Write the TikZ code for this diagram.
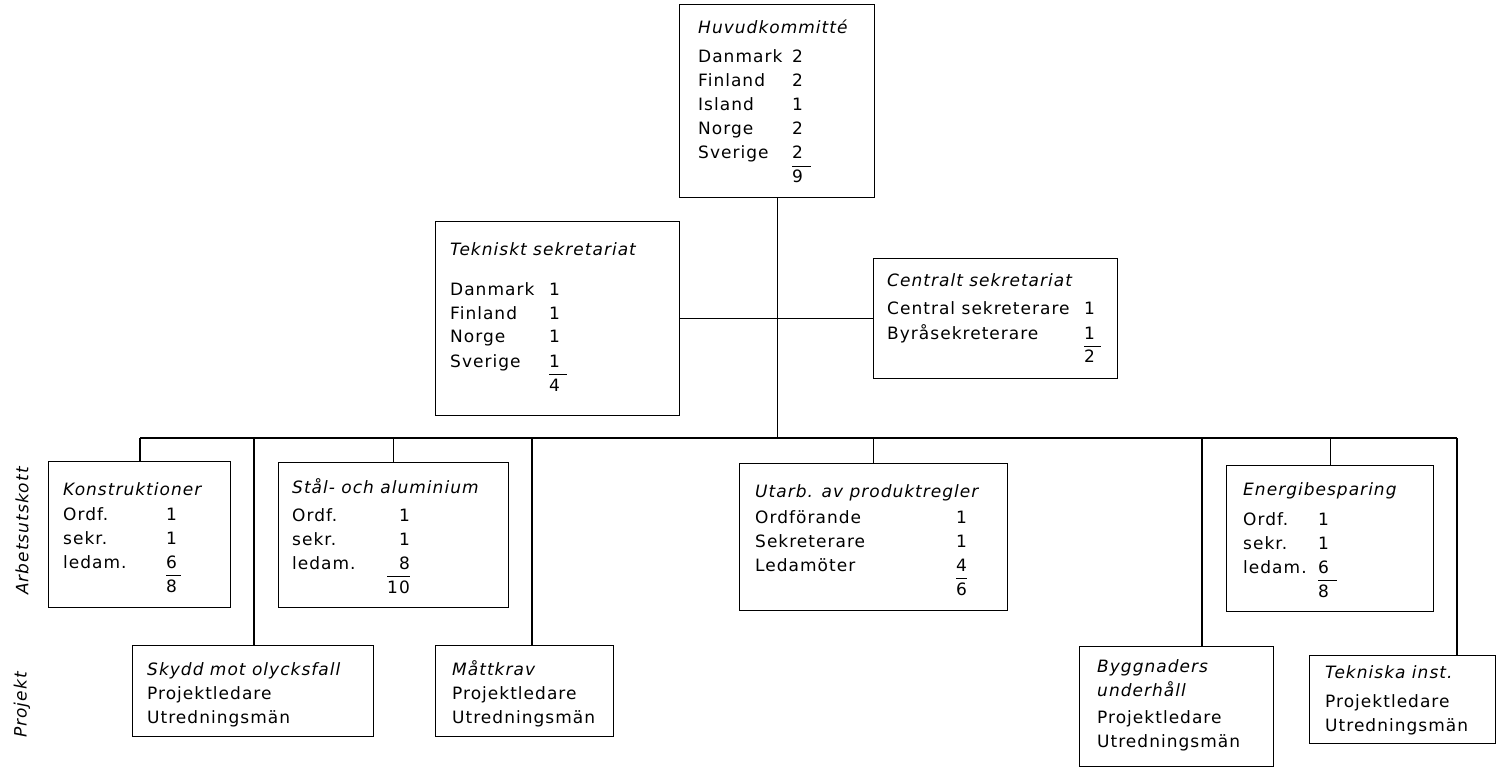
\documentclass[tikz,border=0pt]{standalone}
\usepackage{fontspec}
\setmainfont{DejaVu Sans}[LetterSpace=6]
\usepackage{array}
\usepackage{tikz}

\newcommand{\orgfont}{\fontsize{17}{24}\selectfont}
\newcommand{\hd}[1]{\multicolumn{2}{@{}l@{}}{\rlap{\itshape #1}}}

\begin{document}
\begin{tikzpicture}[x=1pt,y=1pt,yscale=-1,xscale=1,
    unit/.style={draw, line width=1.1pt, anchor=north west, inner sep=0pt},
    txt/.style={anchor=base west, inner sep=0pt, font=\orgfont},
    side/.style={rotate=90, inner sep=0pt, font=\orgfont\itshape},
    link/.style={line width=1.1pt}]
    \useasboundingbox (0,0) rectangle (1501,767);

    %Boxes
    \node [unit, minimum width=195pt, minimum height=193pt] (hk) at (679,4) {};
    \node [unit, minimum width=244pt, minimum height=194pt] (teksek) at (435,221) {};
    \node [unit, minimum width=244pt, minimum height=120pt] (censek) at (873,258) {};
    \node [unit, minimum width=182pt, minimum height=146pt] (konstr) at (48,461) {};
    \node [unit, minimum width=230pt, minimum height=145pt] (stal) at (278,462) {};
    \node [unit, minimum width=268pt, minimum height=147pt] (utarb) at (739,463) {};
    \node [unit, minimum width=207pt, minimum height=146pt] (energi) at (1226,465) {};
    \node [unit, minimum width=241pt, minimum height=91pt] (skydd) at (132,645) {};
    \node [unit, minimum width=178pt, minimum height=91pt] (matt) at (435,645) {};
    \node [unit, minimum width=194pt, minimum height=120pt] (bygg) at (1079,646) {};
    \node [unit, minimum width=186pt, minimum height=88pt] (tekinst) at (1309,655) {};

    %Bus junctions
    \coordinate (busL) at (140,438);
    \coordinate (busR) at (1457,438);
    \coordinate (jskydd) at (254,438);
    \coordinate (jmatt) at (532,438);
    \coordinate (jbygg) at (1202,438);

    %Straight Lines
    \draw [link] (hk.south) -- (hk.south |- busL);
    \draw [link] (teksek.east) -- (teksek.east -| censek.west);
    \draw [link] (busL) -- (busR);
    \draw [link] (busL) -- (busL |- konstr.north);
    \draw [link] (stal.north) -- (stal.north |- busL);
    \draw [link] (utarb.north) -- (utarb.north |- busL);
    \draw [link] (energi.north) -- (energi.north |- busL);
    \draw [link] (jskydd) -- (jskydd |- skydd.north);
    \draw [link] (jmatt) -- (jmatt |- matt.north);
    \draw [link] (jbygg) -- (jbygg |- bygg.north);
    \draw [link] (busR) -- (busR |- tekinst.north);

    % Text Node
    \node [txt] (hk-t) at (698,34) {\begin{tabular}[t]{@{}p{94pt}@{}r@{\hspace{8pt}}}
        \hd{Huvudkommitté}\\[5pt]
        Danmark & 2\\ Finland & 2\\ Island & 1\\ Norge & 2\\ Sverige & 2\\ \cline{2-2}
        & 9
    \end{tabular}};
    % Text Node
    \node [txt] (teksek-t) at (450,255) {\begin{tabular}[t]{@{}p{99pt}@{}r@{\hspace{7pt}}}
        \hd{Tekniskt sekretariat}\\[16pt]
        Danmark & 1\\ Finland & 1\\ Norge & 1\\ Sverige & 1\\ \cline{2-2}
        & 4
    \end{tabular}};
    % Text Node
    \node [txt] (censek-t) at (887,287) {\begin{tabular}[t]{@{}p{197pt}@{}r@{\hspace{6pt}}}
        \hd{Centralt sekretariat}\\[4pt]
        Central sekreterare & 1\\ Byråsekreterare & 1\\ \cline{2-2}
        & 2
    \end{tabular}};
    % Text Node
    \node [txt] (konstr-t) at (63,495) {\begin{tabular}[t]{@{}p{103pt}@{}r@{\hspace{4pt}}}
        \hd{Konstruktioner}\\[1pt]
        Ordf. & 1\\ sekr. & 1\\ ledam. & 6\\ \cline{2-2}
        & 8
    \end{tabular}};
    % Text Node
    \node [txt] (stal-t) at (292,493) {\begin{tabular}[t]{@{}p{95pt}@{}r@{}}
        \hd{Stål- och aluminium}\\[4pt]
        Ordf. & 1\\ sekr. & 1\\ ledam. & 8\\ \cline{2-2}
        & 10
    \end{tabular}};
    % Text Node
    \node [txt] (utarb-t) at (755,497) {\begin{tabular}[t]{@{}p{201pt}@{}r@{}}
        \hd{Utarb. av produktregler}\\[2pt]
        Ordförande & 1\\ Sekreterare & 1\\ Ledamöter & 4\\ \cline{2-2}
        & 6
    \end{tabular}};
    % Text Node
    \node [txt] (energi-t) at (1243,495) {\begin{tabular}[t]{@{}p{75pt}@{}r@{\hspace{8pt}}}
        \hd{Energibesparing}\\[6pt]
        Ordf. & 1\\ sekr. & 1\\ ledam. & 6\\ \cline{2-2}
        & 8
    \end{tabular}};
    % Text Node
    \node [txt] (skydd-t) at (147,675) {\begin{tabular}[t]{@{}l@{}}
        \itshape Skydd mot olycksfall\\ Projektledare\\ Utredningsmän
    \end{tabular}};
    % Text Node
    \node [txt] (matt-t) at (452,675) {\begin{tabular}[t]{@{}l@{}}
        \itshape Måttkrav\\ Projektledare\\ Utredningsmän
    \end{tabular}};
    % Text Node
    \node [txt] (bygg-t) at (1097,672) {\begin{tabular}[t]{@{}l@{}}
        \itshape Byggnaders\\ \itshape underhåll\\[3pt] Projektledare\\ Utredningsmän
    \end{tabular}};
    % Text Node
    \node [txt] (tekinst-t) at (1325,678) {\begin{tabular}[t]{@{}l@{}}
        \itshape Tekniska inst.\\[5pt] Projektledare\\ Utredningsmän
    \end{tabular}};

    % Side labels
    \node [side] (arb) at (22,531) {Arbetsutskott};
    \node [side] (proj) at (22,705) {Projekt};

\end{tikzpicture}
\end{document}
